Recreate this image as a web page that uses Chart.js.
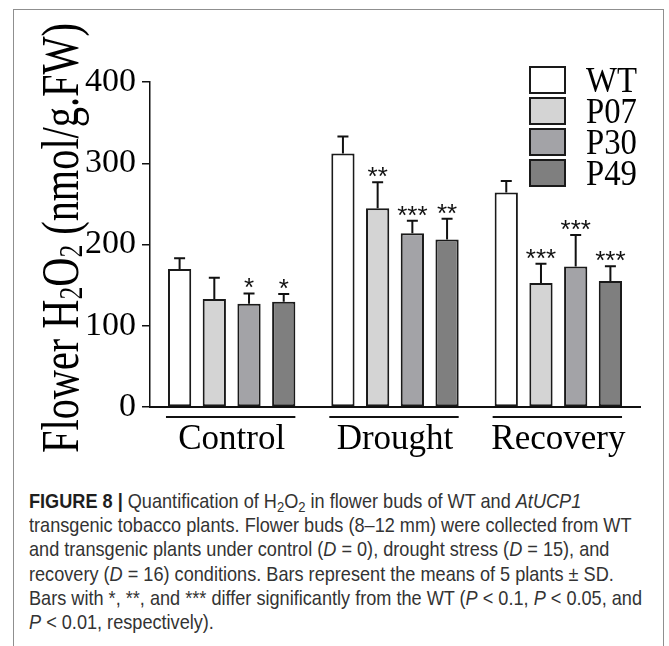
<!DOCTYPE html>
<html>
<head>
<meta charset="utf-8">
<script src="https://cdn.jsdelivr.net/npm/chart.js@4.4.1/dist/chart.umd.min.js"></script>
<style>
html, body { margin: 0; padding: 0; background: #fff; overflow: hidden; }
body { width: 669px; height: 646px; position: relative; }
#frame { position: absolute; left: 13px; top: 9px; width: 651px; height: 720px; border: 1.5px solid #8f8f8f; box-sizing: border-box; }
#chart { position: absolute; left: 0; top: 0; }
#caption { position: absolute; left: 29px; top: 489px; font-family: "Liberation Sans", Arial, sans-serif; font-size: 21px; line-height: 24.2px; color: #333; white-space: nowrap; transform-origin: 0 0; }
#caption b { color: #1e1e1e; }
#caption .sub { font-size: 0.72em; vertical-align: -0.28em; line-height: 0; }
</style>
</head>
<body>
<div id="frame"></div>
<canvas id="chart" width="669" height="470"></canvas>
<div id="caption">
  <div><span class="ln"><b>FIGURE 8 |</b> Quantification of H<span class="sub">2</span>O<span class="sub">2</span> in flower buds of WT and <i>AtUCP1</i></span></div>
  <div><span class="ln">transgenic tobacco plants. Flower buds (8–12 mm) were collected from WT</span></div>
  <div><span class="ln">and transgenic plants under control (<i>D</i> = 0), drought stress (<i>D</i> = 15), and</span></div>
  <div><span class="ln">recovery (<i>D</i> = 16) conditions. Bars represent the means of 5 plants ± SD.</span></div>
  <div><span class="ln">Bars with *, **, and *** differ significantly from the WT (<i>P</i> &lt; 0.1, <i>P</i> &lt; 0.05, and</span></div>
  <div><span class="ln"><i>P</i> &lt; 0.01, respectively).</span></div>
</div>
<script>
// données
const categories = ['Control', 'Drought', 'Recovery'];
const seriesNames = ['WT', 'P07', 'P30', 'P49'];
const wtMeans  = [170, 312, 264];
const p07Means = [133, 244.5, 152.6];
const p30Means = [127, 213.7, 173];
const p49Means = [129.6, 206.3, 155];
const wtSD  = [13, 21, 14.3];
const p07SD = [26.2, 32, 23.8];
const p30SD = [12.7, 15.6, 38.6];
const p49SD = [9.4, 25.5, 18.1];
const wtStars  = ['', '', ''];
const p07Stars = ['', '**', '***'];
const p30Stars = ['*', '***', '***'];
const p49Stars = ['*', '**', '***'];
const yTicks = [0, 100, 200, 300, 400];

const fills = ['#ffffff', '#d4d4d4', '#a3a3a7', '#7f7f7f'];
const means = [wtMeans, p07Means, p30Means, p49Means];
const sds = [wtSD, p07SD, p30SD, p49SD];
const stars = [wtStars, p07Stars, p30Stars, p49Stars];
const serif = '"Liberation Serif", "Times New Roman", serif';

// barres d'erreur + étoiles
const errorBars = {
    id: 'errorBars',
    afterDatasetsDraw(chart) {
        const ctx = chart.ctx;
        const y = chart.scales.y;
        ctx.save();
        chart.data.datasets.forEach((ds, i) => {
            const meta = chart.getDatasetMeta(i);
            meta.data.forEach((bar, j) => {
                const top = y.getPixelForValue(means[i][j] + sds[i][j]);
                ctx.strokeStyle = '#111';
                ctx.lineWidth = 2;
                ctx.beginPath();
                ctx.moveTo(bar.x, bar.y);
                ctx.lineTo(bar.x, top);
                ctx.moveTo(bar.x - 5.5, top);
                ctx.lineTo(bar.x + 5.5, top);
                ctx.stroke();
                if (stars[i][j]) {
                    ctx.fillStyle = '#111';
                    ctx.font = '26px "Liberation Sans", Arial, sans-serif';
                    ctx.textAlign = 'center';
                    ctx.textBaseline = 'alphabetic';
                    ctx.fillText(stars[i][j], bar.x, top + 3);
                }
            });
        });
        ctx.restore();
    }
};

// traits sous chaque groupe
const groupLines = {
    id: 'groupLines',
    afterDraw(chart) {
        const ctx = chart.ctx;
        const base = chart.chartArea.bottom + 10;
        ctx.save();
        ctx.strokeStyle = '#111';
        ctx.lineWidth = 2;
        categories.forEach((c, j) => {
            let lo = Infinity, hi = -Infinity;
            chart.data.datasets.forEach((ds, i) => {
                const b = chart.getDatasetMeta(i).data[j];
                lo = Math.min(lo, b.x - b.width / 2);
                hi = Math.max(hi, b.x + b.width / 2);
            });
            ctx.beginPath();
            ctx.moveTo(lo - 2, base);
            ctx.lineTo(hi, base);
            ctx.stroke();
        });
        ctx.restore();
    }
};

// légende dessinée à la main
const boxLegend = {
    id: 'boxLegend',
    afterDraw(chart) {
        const ctx = chart.ctx;
        ctx.save();
        chart.data.datasets.forEach((ds, i) => {
            const top = 67 + i * 31;
            ctx.fillStyle = ds.backgroundColor;
            ctx.fillRect(530, top, 35, 26);
            ctx.strokeStyle = '#1a1a1a';
            ctx.lineWidth = 2;
            ctx.strokeRect(530, top, 35, 26);
            ctx.save();
            ctx.translate(586, top + 25);
            ctx.scale(0.91, 1);
            ctx.fillStyle = '#000';
            ctx.font = '36px ' + serif;
            ctx.textAlign = 'left';
            ctx.textBaseline = 'alphabetic';
            ctx.fillText(ds.label, 0, 0);
            ctx.restore();
        });
        ctx.restore();
    }
};

// titre de l'axe Y avec indices
const yTitle = {
    id: 'yTitle',
    afterDraw(chart) {
        const ctx = chart.ctx;
        const parts = [['Flower H', 0], ['2', 1], ['O', 0], ['2', 1], [' (nmol/g.FW)', 0]];
        const big = '52px ' + serif, small = '33px ' + serif;
        let w = 0;
        parts.forEach(p => { ctx.font = p[1] ? small : big; w += ctx.measureText(p[0]).width; });
        const length = 430;
        ctx.save();
        ctx.translate(78, 238);
        ctx.rotate(-Math.PI / 2);
        ctx.scale(length / w, 1);
        ctx.fillStyle = '#000';
        ctx.textBaseline = 'alphabetic';
        ctx.textAlign = 'left';
        let x = -w / 2;
        parts.forEach(p => {
            ctx.font = p[1] ? small : big;
            ctx.fillText(p[0], x, p[1] ? 4 : 0);
            x += ctx.measureText(p[0]).width;
        });
        ctx.restore();
    }
};

new Chart(document.getElementById('chart'), {
    type: 'bar',
    data: {
        labels: categories,
        datasets: seriesNames.map((name, i) => ({
            label: name,
            data: means[i],
            backgroundColor: fills[i],
            borderColor: '#1a1a1a',
            borderWidth: 2,
            borderSkipped: false,
            categoryPercentage: 0.85,
            barPercentage: 0.67
        }))
    },
    options: {
        responsive: false,
        animation: false,
        layout: { padding: { top: 82, right: 29, left: 0, bottom: 0 } },
        plugins: { legend: { display: false }, tooltip: { enabled: false } },
        scales: {
            x: {
                grid: { display: false },
                border: { color: '#111', width: 2 },
                ticks: { color: '#000', font: { family: serif, size: 35 }, padding: 4 },
                afterFit(scale) { scale.height = 63; }
            },
            y: {
                min: 0,
                max: 400,
                afterBuildTicks(scale) { scale.ticks = yTicks.map(v => ({ value: v })); },
                grid: { drawOnChartArea: false, drawTicks: true, tickLength: 8, color: '#111', lineWidth: 1.5 },
                border: { color: '#111', width: 1.5 },
                ticks: { color: '#000', font: { family: serif, size: 34 }, padding: 6 },
                afterFit(scale) { scale.width = 150; }
            }
        }
    },
    plugins: [errorBars, groupLines, boxLegend, yTitle]
});

// légende texte : largeur ajustée à la figure
const cap = document.getElementById('caption');
let widest = 0;
cap.querySelectorAll('.ln').forEach(s => { widest = Math.max(widest, s.getBoundingClientRect().width); });
cap.style.transform = 'scaleX(' + (613 / widest) + ')';
</script>
</body>
</html>
